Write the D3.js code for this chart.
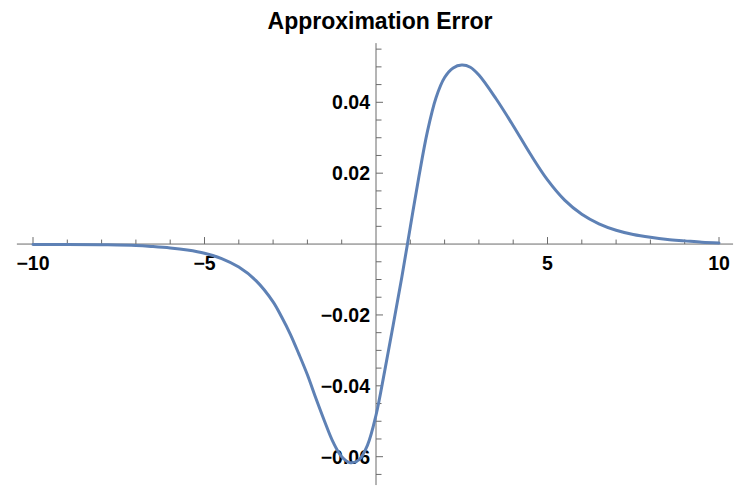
<!DOCTYPE html>
<html>
<head>
<meta charset="utf-8">
<script src="https://cdn.jsdelivr.net/npm/d3@7"></script>
<style>
  html, body { margin: 0; padding: 0; background: #fff; }
  svg { display: block; }
</style>
</head>
<body>
<svg id="chart" width="746" height="490"></svg>
<script>
// ---- data ----
const xs = [-10, -9, -8, -7, -6.5, -6, -5.5, -5, -4.5, -4, -3.5, -3, -2.75, -2.5, -2.25, -2, -1.75, -1.5, -1.25, -1, -0.75, -0.5, -0.25, 0, 0.25, 0.5, 0.75, 1, 1.25, 1.5, 1.75, 2, 2.25, 2.5, 2.75, 3, 3.5, 4, 4.5, 5, 5.5, 6, 6.5, 7, 7.5, 8, 8.5, 9, 9.5, 10];
const ys = [-0.0001, -0.0001, -0.0002, -0.0004, -0.0007, -0.0011, -0.0017, -0.0026, -0.0041, -0.0065, -0.0103, -0.0163, -0.0206, -0.0254, -0.0310, -0.0369, -0.0436, -0.0500, -0.0559, -0.0600, -0.0617, -0.0609, -0.0568, -0.0483, -0.0360, -0.0229, -0.0095, 0.0048, 0.0190, 0.0318, 0.0413, 0.0470, 0.0497, 0.0505, 0.0499, 0.0477, 0.0410, 0.0334, 0.0254, 0.0181, 0.0124, 0.0084, 0.0057, 0.0039, 0.0027, 0.0019, 0.0013, 0.0009, 0.0005, 0.0003];
const xMajorTicks = [-10, -5, 5, 10];
const xTickLabels = ["\u221210", "\u22125", "5", "10"];
const xMinorTicks = [-9, -8, -7, -6, -4, -3, -2, -1, 1, 2, 3, 4, 6, 7, 8, 9];
const yMajorTicks = [-0.06, -0.04, -0.02, 0.02, 0.04];
const yTickLabels = ["\u22120.06", "\u22120.04", "\u22120.02", "0.02", "0.04"];
const yMinorTicks = [-0.065, -0.055, -0.05, -0.045, -0.035, -0.03, -0.025, -0.015, -0.01, -0.005, 0.005, 0.01, 0.015, 0.025, 0.03, 0.035, 0.045, 0.05, 0.055];
const title = "Approximation Error";

// ---- layout ----
const svg = d3.select("#chart");
const x = d3.scaleLinear().domain([-10, 10]).range([33, 719]);
const y = d3.scaleLinear().domain([-0.06, 0.04]).range([456.7, 102.3]);
const xExtent = [-10.47, 10.41];
const yExtent = [-0.068, 0.0567];
const axisColor = "#6b6b6b";
const fontFam = "'Liberation Sans', Arial, Helvetica, sans-serif";

// axes lines
svg.append("line")
  .attr("x1", x(xExtent[0])).attr("x2", x(xExtent[1]))
  .attr("y1", y(0)).attr("y2", y(0))
  .attr("stroke", axisColor).attr("stroke-width", 1);
svg.append("line")
  .attr("x1", x(0)).attr("x2", x(0))
  .attr("y1", y(yExtent[0])).attr("y2", y(yExtent[1]))
  .attr("stroke", axisColor).attr("stroke-width", 1);

// x ticks (upward)
svg.selectAll(".xmaj").data(xMajorTicks).enter().append("line")
  .attr("x1", d => x(d)).attr("x2", d => x(d))
  .attr("y1", y(0)).attr("y2", y(0) - 7)
  .attr("stroke", axisColor);
svg.selectAll(".xmin").data(xMinorTicks).enter().append("line")
  .attr("x1", d => x(d)).attr("x2", d => x(d))
  .attr("y1", y(0)).attr("y2", y(0) - 4.5)
  .attr("stroke", axisColor);

// y ticks (rightward)
svg.selectAll(".ymaj").data(yMajorTicks).enter().append("line")
  .attr("x1", x(0)).attr("x2", x(0) + 7)
  .attr("y1", d => y(d)).attr("y2", d => y(d))
  .attr("stroke", axisColor);
svg.selectAll(".ymin").data(yMinorTicks).enter().append("line")
  .attr("x1", x(0)).attr("x2", x(0) + 5.5)
  .attr("y1", d => y(d)).attr("y2", d => y(d))
  .attr("stroke", axisColor);

// tick labels
svg.selectAll(".xlab").data(xMajorTicks).enter().append("text")
  .attr("x", d => x(d)).attr("y", y(0) + 26)
  .attr("text-anchor", "middle")
  .attr("font-family", fontFam).attr("font-weight", "bold").attr("font-size", 19.5)
  .attr("fill", "#000")
  .text((d, i) => xTickLabels[i]);
svg.selectAll(".ylab").data(yMajorTicks).enter().append("text")
  .attr("x", x(0) - 6).attr("y", d => y(d) + 7)
  .attr("text-anchor", "end")
  .attr("font-family", fontFam).attr("font-weight", "bold").attr("font-size", 19.5)
  .attr("fill", "#000")
  .text((d, i) => yTickLabels[i]);

// curve
const pts = xs.map((v, i) => [v, ys[i]]);
const line = d3.line().x(d => x(d[0])).y(d => y(d[1])).curve(d3.curveCatmullRom.alpha(0.5));
svg.append("path").datum(pts)
  .attr("d", line)
  .attr("fill", "none")
  .attr("stroke", "#5e81b5")
  .attr("stroke-width", 3)
  .attr("stroke-linejoin", "round").attr("stroke-linecap", "round");

// title
svg.append("text")
  .attr("x", 380).attr("y", 29)
  .attr("text-anchor", "middle")
  .attr("font-family", fontFam).attr("font-weight", "bold").attr("font-size", 23)
  .attr("fill", "#000")
  .text(title);
</script>
</body>
</html>
